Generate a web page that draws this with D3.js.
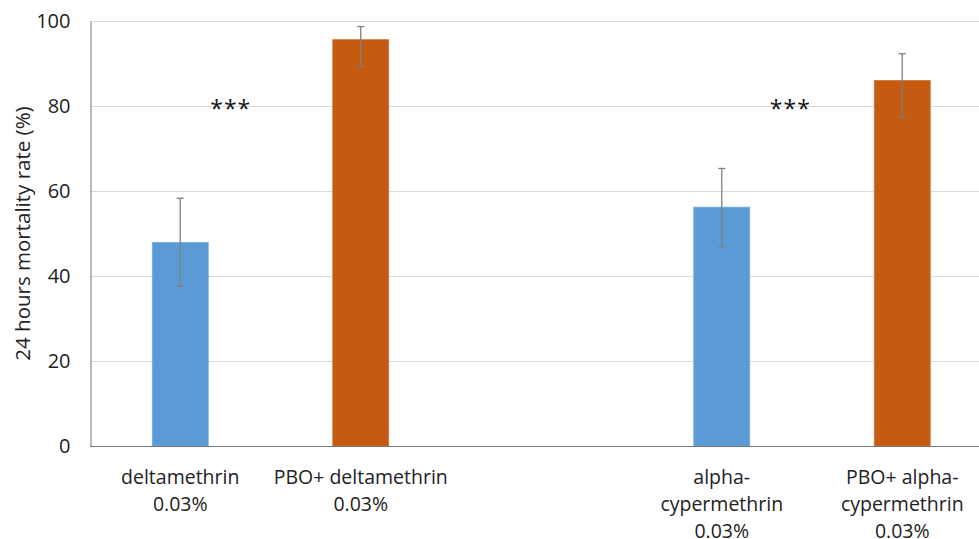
<!DOCTYPE html>
<html>
<head>
<meta charset="utf-8">
<script src="https://cdn.jsdelivr.net/npm/d3@7"></script>
<style>
  html, body { margin: 0; padding: 0; background: #fff; overflow: hidden; }
  svg { display: block; font-family: "Open Sans", "Noto Sans", sans-serif; }
</style>
</head>
<body>
<svg id="chart" width="979" height="539"></svg>
<script>
// Treatments (two groups, separated by an empty slot)
const categories = [
  ["deltamethrin", "0.03%"],
  ["PBO+ deltamethrin", "0.03%"],
  ["alpha-", "cypermethrin", "0.03%"],
  ["PBO+ alpha-", "cypermethrin", "0.03%"]
];
const slots = ["d", "pd", "gap", "a", "pa"];
const categorySlot = ["d", "pd", "a", "pa"];
const mortality = [47.9, 95.6, 56.2, 86.0];
const errLow = [37.6, 89.2, 46.9, 77.4];
const errHigh = [58.3, 98.7, 65.3, 92.3];
const isPBO = [false, true, false, true];
const yTicks = [0, 20, 40, 60, 80, 100];
// significance marks: group slot, offset within the pair (in steps), y value
const sigSlot = ["d", "a"];
const sigOffset = [0.28, 0.38];
const sigY = [80, 80];
const sigText = "***";

const svg = d3.select("#chart");
const margin = { left: 90, top: 21, bottom: 93 };
const H = 539;
const fontSize = 19.5;

const x = d3.scaleBand()
  .domain(slots)
  .range([margin.left, 992.5])
  .paddingInner(0.69)
  .paddingOuter(0.345);

const y = d3.scaleLinear()
  .domain([0, 100])
  .range([H - margin.bottom, margin.top]);

// gridlines
svg.append("g")
  .selectAll("line")
  .data(yTicks.filter(t => t > 0))
  .join("line")
  .attr("x1", margin.left)
  .attr("x2", 979)
  .attr("y1", d => y(d) + 0.5)
  .attr("y2", d => y(d) + 0.5)
  .attr("stroke", "#d9d9d9")
  .attr("stroke-width", 1);

// y axis
const yAxis = svg.append("g")
  .attr("transform", `translate(${margin.left + 0.5},0)`)
  .call(d3.axisLeft(y).tickValues(yTicks).tickSize(0).tickPadding(20));
yAxis.select(".domain").attr("stroke", "#767676");
yAxis.selectAll("text")
  .attr("font-size", 20)
  .attr("fill", "#222")
  .attr("font-family", "Open Sans, sans-serif");

// bars
svg.append("g")
  .selectAll("rect")
  .data(mortality)
  .join("rect")
  .attr("x", (d, i) => x(categorySlot[i]))
  .attr("width", x.bandwidth())
  .attr("y", d => y(d))
  .attr("height", d => y(0) - y(d))
  .attr("fill", (d, i) => isPBO[i] ? "#c55a11" : "#5b9bd5")
  .attr("stroke", (d, i) => isPBO[i] ? "#d0713a" : "#74abdc")
  .attr("stroke-width", 0.8);

// x axis baseline
svg.append("line")
  .attr("x1", margin.left)
  .attr("x2", 979)
  .attr("y1", y(0) + 0.5)
  .attr("y2", y(0) + 0.5)
  .attr("stroke", "#767676")
  .attr("stroke-width", 1);

// error bars
const eb = svg.append("g")
  .attr("stroke", "#7f7f7f")
  .attr("stroke-width", 1.3);
mortality.forEach((d, i) => {
  const cx = x(categorySlot[i]) + x.bandwidth() / 2;
  eb.append("line").attr("x1", cx).attr("x2", cx)
    .attr("y1", y(errLow[i])).attr("y2", y(errHigh[i]));
  [errLow[i], errHigh[i]].forEach(v => {
    eb.append("line").attr("x1", cx - 3.5).attr("x2", cx + 3.5)
      .attr("y1", y(v)).attr("y2", y(v));
  });
});

// category labels
const lbl = svg.append("g")
  .attr("font-size", fontSize)
  .attr("fill", "#222")
  .attr("text-anchor", "middle");
categories.forEach((lines, i) => {
  const cx = x(categorySlot[i]) + x.bandwidth() / 2;
  const t = lbl.append("text")
    .attr("x", cx)
    .attr("y", 484);
  lines.forEach((s, j) => {
    t.append("tspan")
      .attr("x", cx)
      .attr("dy", j === 0 ? 0 : 27)
      .text(s);
  });
});

// significance marks
sigSlot.forEach((s, i) => {
  svg.append("text")
    .attr("x", x(s) + x.bandwidth() / 2 + sigOffset[i] * x.step())
    .attr("y", y(sigY[i]) + 11)
    .attr("text-anchor", "middle")
    .attr("font-size", 23)
    .attr("letter-spacing", 1)
    .attr("fill", "#111")
    .text(sigText);
});

// y axis title
svg.append("text")
  .attr("transform", `translate(30,${(y(0) + y(100)) / 2}) rotate(-90)`)
  .attr("text-anchor", "middle")
  .attr("font-size", 20.5)
  .attr("fill", "#222")
  .text("24 hours mortality rate (%)");
</script>
</body>
</html>
